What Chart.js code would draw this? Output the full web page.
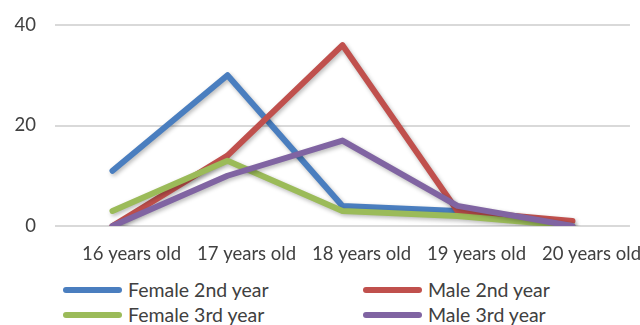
<!DOCTYPE html>
<html>
<head>
<meta charset="utf-8">
<script src="https://cdn.jsdelivr.net/npm/chart.js@4"></script>
<style>
  html, body { margin: 0; padding: 0; background: #fff; }
  #wrap { position: relative; width: 640px; height: 325px; }
  #chart { position: absolute; left: 0; top: 0; }
  .lg { position: absolute; font-family: Lato, "Liberation Sans", sans-serif; font-size: 19.5px; color: #404040; white-space: nowrap; }
  .lg .sw { position: absolute; left: 0; width: 59px; height: 6px; border-radius: 3px; }
  .lg .tx { position: absolute; left: 65px; line-height: 20px; }
</style>
</head>
<body>
<div id="wrap">
  <canvas id="chart" width="640" height="272"></canvas>
</div>
<script>
// Age groups along the x axis
const categories = ['16 years old', '17 years old', '18 years old', '19 years old', '20 years old'];

// Student counts per series
const female2nd = [11, 30, 4, 3, null];
const male2nd   = [0, 14, 36, 3, 1];
const female3rd = [3, 13, 3, 2, 0];
const male3rd   = [0, 10, 17, 4, 0];

const seriesNames  = ['Female 2nd year', 'Male 2nd year', 'Female 3rd year', 'Male 3rd year'];
const seriesValues = [female2nd, male2nd, female3rd, male3rd];
const seriesColors = ['#4a7ebf', '#c0504d', '#9bbb59', '#8064a2'];

// Y axis range and step
const yMin = 0;
const yMax = 40;
const yStep = 20;

const FONT = 'Lato, "Liberation Sans", sans-serif';
const TEXT = '#404040';

// Soft drop shadow under each line
const lineShadow = {
  id: 'lineShadow',
  beforeDatasetDraw(chart) {
    const c = chart.ctx;
    c.save();
    c.shadowColor = 'rgba(0,0,0,0.28)';
    c.shadowBlur = 4;
    c.shadowOffsetX = 1.5;
    c.shadowOffsetY = 2;
  },
  afterDatasetDraw(chart) {
    chart.ctx.restore();
  }
};

new Chart(document.getElementById('chart'), {
  type: 'line',
  data: {
    labels: categories,
    datasets: seriesValues.map((vals, i) => ({
      label: seriesNames[i],
      data: vals,
      borderColor: seriesColors[i],
      backgroundColor: seriesColors[i],
      borderWidth: 6,
      pointRadius: 0,
      pointHoverRadius: 0,
      tension: 0,
      fill: false,
      borderCapStyle: 'round',
      borderJoinStyle: 'round',
      spanGaps: false,
      order: seriesValues.length - i
    }))
  },
  plugins: [lineShadow],
  options: {
    responsive: false,
    animation: false,
    events: [],
    layout: { padding: { left: 0, right: 10, top: 25, bottom: 0 } },
    plugins: {
      legend: { display: false },
      tooltip: { enabled: false }
    },
    scales: {
      x: {
        type: 'category',
        offset: true,
        grid: { display: false, drawTicks: false },
        border: { display: false },
        ticks: {
          color: TEXT,
          font: { family: FONT, size: 18.5 },
          padding: 17,
          maxRotation: 0,
          autoSkip: false,
          labelOffset: 19
        },
        afterFit(scale) { scale.height = 46; }
      },
      y: {
        min: yMin,
        max: yMax,
        grid: { color: '#d9d9d9', lineWidth: 2, drawTicks: false },
        border: { display: false },
        ticks: {
          stepSize: yStep,
          color: TEXT,
          font: { family: FONT, size: 18.5 },
          padding: 19
        },
        afterFit(scale) {
          scale.width = 55;
          scale.paddingTop = 0;
          scale.paddingBottom = 0;
        }
      }
    }
  }
});

// Two-column legend under the plot
const wrap = document.getElementById('wrap');
const legendPos = [
  { x: 63, y: 290 }, { x: 363, y: 290 },
  { x: 63, y: 315 }, { x: 363, y: 315 }
];
seriesNames.forEach((name, i) => {
  const item = document.createElement('div');
  item.className = 'lg';
  item.style.left = legendPos[i].x + 'px';
  item.style.top = (legendPos[i].y - 10) + 'px';
  const sw = document.createElement('div');
  sw.className = 'sw';
  sw.style.background = seriesColors[i];
  sw.style.top = '7px';
  const tx = document.createElement('div');
  tx.className = 'tx';
  tx.textContent = name;
  item.appendChild(sw);
  item.appendChild(tx);
  wrap.appendChild(item);
});
</script>
</body>
</html>
